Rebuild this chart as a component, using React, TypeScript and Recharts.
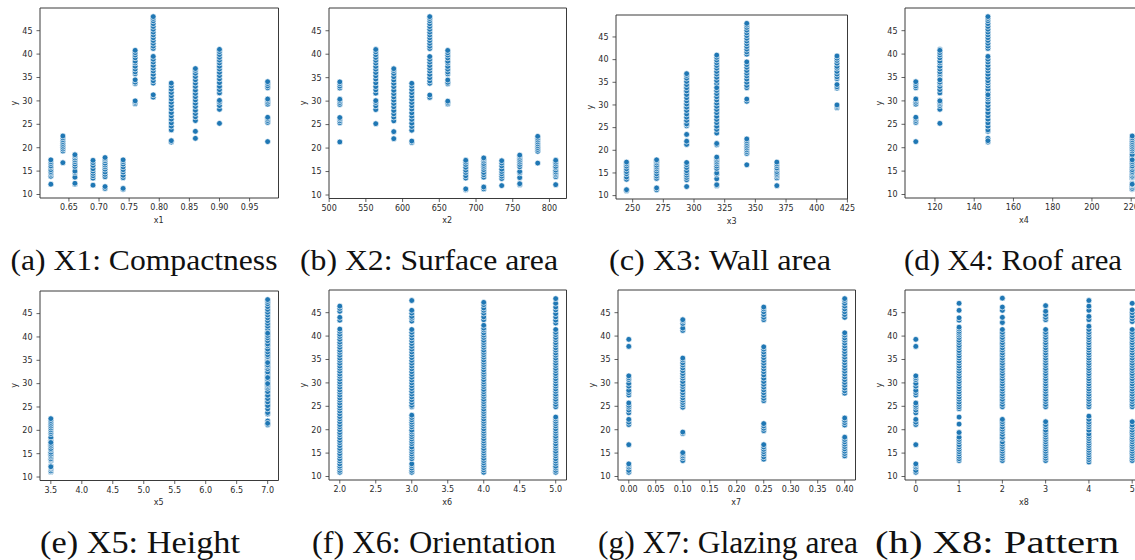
import React from 'react';
import { ScatterChart, Scatter, XAxis, YAxis, ReferenceArea } from 'recharts';

// ---------- DATA ----------
// building shapes (one entry per compactness level)
const compactness = [0.98, 0.9, 0.86, 0.82, 0.79, 0.76, 0.74, 0.71, 0.69, 0.66, 0.64, 0.62];
const surfaceArea = [514.5, 563.5, 588, 612.5, 637, 661.5, 686, 710.5, 735, 759.5, 784, 808.5];
const wallArea = [294, 318.5, 294, 318.5, 343, 416.5, 245, 269.5, 294, 318.5, 343, 367.5];
const roofArea = [110.25, 122.5, 147, 147, 147, 122.5, 220.5, 220.5, 220.5, 220.5, 220.5, 220.5];
const overallHeight = [7, 7, 7, 7, 7, 7, 3.5, 3.5, 3.5, 3.5, 3.5, 3.5];

// y values read per shape
const y098 = [21.3, 25.4, 25.8, 26.2, 26.5, 29.3, 29.7, 30.1, 30.4, 32.8, 33.2, 33.7, 34.1];
const y090 = [25.2, 28.2, 29.0, 29.7, 30.1, 31.7, 32.4, 33.1, 33.9, 34.7, 35.4, 36.1, 36.8, 37.4, 38.1, 38.7, 39.3, 39.9, 40.5, 41.0];
const y086 = [22.0, 23.5, 25.8, 26.6, 27.3, 28.0, 28.8, 29.5, 30.2, 30.9, 31.6, 32.3, 33.1, 33.8, 34.5, 35.2, 35.9, 36.5, 36.9];
const y082 = [21.2, 21.5, 23.8, 24.6, 25.3, 26.1, 26.8, 27.5, 28.3, 29.0, 29.7, 30.4, 31.1, 31.8, 32.5, 33.2, 33.8];
const y079 = [30.8, 31.3, 33.8, 34.3, 35.0, 35.7, 36.4, 37.0, 37.6, 38.3, 38.9, 39.5, 41.2, 41.7, 42.3, 42.9, 43.5, 44.1, 44.7, 45.3, 45.9, 46.5, 47.1, 47.6, 48.0];
const y076 = [29.4, 29.7, 30.0, 33.7, 34.0, 34.5, 35.8, 36.2, 36.8, 37.4, 38.1, 38.5, 39.2, 39.8, 40.3, 40.8];
const y074 = [11.1, 11.3, 13.6, 14.1, 14.8, 15.3, 15.9, 16.5, 17.0, 17.4];
const y071 = [11.3, 11.7, 13.8, 14.3, 14.8, 15.4, 15.9, 16.3, 16.7, 17.2, 17.6, 17.9];
const y069 = [12.0, 13.5, 14.0, 14.5, 15.0, 15.5, 16.2, 16.8, 17.3];
const y066 = [12.2, 12.4, 13.7, 14.7, 15.0, 16.0, 16.5, 17.0, 17.4, 17.8, 18.2, 18.5];
const y064 = [16.8, 19.3, 19.7, 20.1, 20.5, 20.9, 21.3, 21.7, 22.1, 22.5];
const y062 = [12.2, 13.9, 14.3, 14.6, 14.9, 15.3, 15.8, 16.1, 16.6, 17.0, 17.4];
const yByShape = [y098, y090, y086, y082, y079, y076, y074, y071, y069, y066, y064, y062];

// orientation
const orientation = [2, 3, 4, 5];
const yOr2 = [10.9, 11.3, 11.8, 12.2, 12.7, 13.3, 13.8, 14.4, 14.9, 15.5, 16.0, 16.6, 17.2, 17.7, 18.3, 18.9, 19.4, 20.0, 20.6, 21.1, 21.7, 22.3, 22.8, 23.4, 24.0, 24.6, 25.1, 25.7, 26.3, 26.8, 27.4, 28.0, 28.5, 29.1, 29.7, 30.2, 30.8, 31.4, 31.9, 32.5, 33.1, 33.6, 34.2, 34.8, 35.3, 35.9, 36.5, 37.0, 37.6, 38.2, 38.7, 39.3, 39.9, 40.4, 41.0, 41.5, 43.4, 44.0, 45.3, 45.9, 46.4];
const yOr3 = [10.9, 11.3, 11.8, 12.3, 12.7, 13.8, 14.3, 14.8, 15.3, 15.8, 16.3, 17.0, 17.5, 18.0, 18.5, 19.0, 19.5, 19.9, 20.6, 21.1, 21.6, 22.1, 22.6, 23.1, 24.9, 25.2, 25.8, 26.4, 27.0, 27.6, 28.2, 28.8, 29.4, 30.0, 30.6, 31.2, 31.8, 32.4, 33.0, 33.6, 34.2, 34.8, 35.4, 36.0, 36.6, 37.2, 37.8, 38.4, 39.0, 39.6, 40.2, 40.8, 41.4, 43.2, 43.8, 44.2, 44.9, 45.5, 47.6];
const yOr4 = [10.9, 11.4, 11.9, 12.4, 12.9, 13.4, 13.9, 14.5, 15.0, 15.5, 16.0, 16.6, 17.1, 17.6, 18.1, 18.7, 19.2, 19.7, 20.2, 20.8, 21.3, 21.8, 22.3, 22.9, 23.4, 23.9, 24.4, 25.0, 25.5, 26.0, 26.5, 27.1, 27.6, 28.1, 28.6, 29.2, 29.7, 30.2, 30.7, 31.3, 31.8, 32.3, 32.8, 33.4, 33.9, 34.4, 34.9, 35.5, 36.0, 36.5, 37.0, 37.6, 38.1, 38.6, 39.1, 39.7, 40.2, 40.7, 41.3, 41.7, 42.3, 43.5, 44.1, 44.9, 45.5, 46.0, 46.7, 47.2];
const yOr5 = [10.9, 11.3, 11.8, 12.2, 12.8, 13.3, 13.8, 14.4, 14.9, 15.4, 16.0, 16.5, 17.0, 17.6, 18.1, 18.6, 19.2, 19.7, 20.2, 20.8, 21.3, 21.8, 22.3, 22.7, 24.9, 25.4, 26.0, 26.5, 27.1, 27.6, 28.2, 28.7, 29.3, 29.8, 30.4, 30.9, 31.5, 32.0, 32.6, 33.1, 33.7, 34.2, 34.8, 35.3, 35.9, 36.4, 37.0, 37.5, 38.1, 38.6, 39.2, 39.7, 40.3, 40.8, 41.4, 42.8, 43.4, 44.1, 44.8, 45.6, 46.2, 47.0, 48.0];
const yByOrientation = [yOr2, yOr3, yOr4, yOr5];

// glazing area
const glazingArea = [0, 0.1, 0.25, 0.4];
const yGl000 = [10.9, 11.3, 12.0, 12.4, 12.7, 16.8, 21.1, 21.6, 22.2, 23.6, 24.2, 24.8, 25.2, 25.7, 27.4, 27.9, 28.4, 29.3, 29.9, 30.7, 31.1, 31.5, 37.8, 39.3];
const yGl010 = [13.4, 14.0, 14.4, 14.8, 15.1, 19.2, 19.5, 24.8, 25.3, 25.8, 26.3, 26.8, 27.4, 27.9, 28.5, 29.2, 29.7, 30.3, 31.0, 31.5, 32.0, 32.6, 33.2, 33.8, 34.3, 34.9, 35.3, 41.2, 41.7, 42.7, 43.2, 43.5];
const yGl025 = [13.7, 14.2, 14.8, 15.3, 15.8, 16.3, 16.8, 19.8, 20.3, 20.8, 21.3, 26.2, 26.7, 27.3, 27.9, 28.5, 29.1, 29.7, 30.3, 31.0, 31.7, 32.4, 33.0, 33.6, 34.2, 34.8, 35.4, 36.0, 36.6, 37.2, 37.7, 43.5, 44.0, 44.6, 45.2, 45.8, 46.2];
const yGl040 = [14.4, 14.9, 15.4, 15.9, 16.4, 16.9, 17.4, 17.9, 18.4, 21.0, 21.5, 22.0, 22.5, 27.8, 28.3, 28.9, 29.5, 30.1, 30.7, 31.3, 31.9, 32.5, 33.1, 33.7, 34.3, 34.9, 35.5, 36.1, 36.7, 37.3, 37.9, 38.5, 39.1, 39.6, 40.2, 40.7, 44.0, 44.6, 45.2, 45.8, 46.4, 47.0, 47.6, 48.0];
const yByGlazing = [yGl000, yGl010, yGl025, yGl040];

// glazing area distribution (pattern)
const pattern = [0, 1, 2, 3, 4, 5];
const yPt0 = [10.9, 11.3, 12.0, 12.4, 12.7, 16.8, 21.1, 21.6, 22.2, 23.6, 24.2, 24.8, 25.2, 25.7, 27.4, 27.9, 28.4, 29.3, 29.9, 30.7, 31.1, 31.5, 37.8, 39.3];
const yPt1 = [13.4, 13.8, 14.3, 14.8, 15.3, 15.8, 16.3, 16.8, 17.4, 17.9, 18.4, 19.4, 21.2, 22.7, 24.5, 24.9, 25.4, 25.9, 26.5, 27.0, 27.6, 28.1, 28.7, 29.2, 29.8, 30.3, 30.9, 31.4, 32.0, 32.5, 33.1, 33.6, 34.2, 34.7, 35.3, 35.8, 36.4, 36.9, 37.5, 38.0, 38.6, 39.1, 39.7, 40.2, 40.6, 41.0, 41.5, 41.9, 43.4, 43.9, 45.5, 47.0];
const yPt2 = [13.4, 13.9, 14.4, 14.9, 15.4, 15.9, 16.4, 16.9, 17.4, 18.1, 18.4, 19.0, 19.6, 20.1, 20.6, 21.2, 21.7, 22.2, 24.9, 25.4, 26.0, 26.5, 27.1, 27.6, 28.2, 28.7, 29.3, 29.8, 30.4, 30.9, 31.5, 32.0, 32.6, 33.1, 33.7, 34.2, 34.8, 35.3, 35.9, 36.4, 37.0, 37.5, 38.1, 38.6, 39.2, 39.7, 40.3, 40.8, 41.4, 42.9, 44.0, 45.5, 46.2, 48.1];
const yPt3 = [13.4, 13.9, 14.4, 14.9, 15.4, 15.9, 16.4, 16.9, 17.4, 17.9, 18.4, 18.9, 19.4, 19.9, 20.6, 21.1, 21.7, 24.9, 25.4, 26.0, 26.5, 27.1, 27.6, 28.2, 28.7, 29.3, 29.8, 30.4, 30.9, 31.5, 32.0, 32.6, 33.1, 33.7, 34.2, 34.8, 35.3, 35.9, 36.4, 37.0, 37.5, 38.1, 38.6, 39.2, 39.7, 40.3, 40.8, 41.4, 43.5, 44.0, 44.6, 45.3, 46.5];
const yPt4 = [13.1, 13.6, 14.1, 14.6, 15.1, 15.6, 16.1, 16.6, 17.1, 17.6, 18.1, 18.6, 19.1, 19.9, 20.6, 21.1, 21.6, 22.2, 22.9, 24.9, 25.4, 26.0, 26.5, 27.1, 27.6, 28.2, 28.7, 29.3, 29.8, 30.4, 30.9, 31.5, 32.0, 32.6, 33.1, 33.7, 34.2, 34.8, 35.3, 35.9, 36.4, 37.0, 37.5, 38.1, 38.6, 39.2, 39.7, 40.3, 40.8, 41.4, 42.1, 43.5, 44.2, 45.5, 46.4, 47.6];
const yPt5 = [13.4, 13.9, 14.4, 14.9, 15.4, 15.9, 16.4, 16.9, 17.4, 17.9, 18.4, 18.9, 19.4, 19.9, 20.5, 21.0, 21.7, 24.9, 25.4, 26.0, 26.5, 27.1, 27.6, 28.2, 28.7, 29.3, 29.8, 30.4, 30.9, 31.5, 32.0, 32.6, 33.1, 33.7, 34.2, 34.8, 35.3, 35.9, 36.4, 37.0, 37.5, 38.1, 38.6, 39.2, 39.7, 40.3, 40.8, 41.4, 43.1, 43.7, 44.3, 45.0, 45.6, 47.0];
const yByPattern = [yPt0, yPt1, yPt2, yPt3, yPt4, yPt5];

// ticks
const yTicks = [10, 15, 20, 25, 30, 35, 40, 45];
const ticksX1 = [0.65, 0.7, 0.75, 0.8, 0.85, 0.9, 0.95];
const ticksX2 = [500, 550, 600, 650, 700, 750, 800];
const ticksX3 = [250, 275, 300, 325, 350, 375, 400, 425];
const ticksX4 = [120, 140, 160, 180, 200, 220];
const ticksX5 = [3.5, 4, 4.5, 5, 5.5, 6, 6.5, 7];
const ticksX6 = [2, 2.5, 3, 3.5, 4, 4.5, 5];
const ticksX7 = [0, 0.05, 0.1, 0.15, 0.2, 0.25, 0.3, 0.35, 0.4];
const ticksX8 = [0, 1, 2, 3, 4, 5];

const captions = [
  '(a) X1: Compactness', '(b) X2: Surface area', '(c) X3: Wall area', '(d) X4: Roof area',
  '(e) X5: Height', '(f) X6: Orientation', '(g) X7: Glazing area', '(h) X8: Pattern',
];
const xNames = ['x1', 'x2', 'x3', 'x4', 'x5', 'x6', 'x7', 'x8'];

// ---------- helpers ----------
type Pt = { x: number; y: number };
function columns(xs: number[], ys: number[][]): Pt[] {
  const out: Pt[] = [];
  xs.forEach((x, i) => ys[i].forEach((y) => out.push({ x, y })));
  return out;
}
function padded(xs: number[]): [number, number] {
  const lo = Math.min(...xs);
  const hi = Math.max(...xs);
  const m = (hi - lo) * 0.05;
  return [lo - m, hi + m];
}
const allY = yByShape.flat();
const Y_DOMAIN = padded(allY);

const panelData: Pt[][] = [
  columns(compactness, yByShape),
  columns(surfaceArea, yByShape),
  columns(wallArea, yByShape),
  columns(roofArea, yByShape),
  columns(overallHeight, yByShape),
  columns(orientation, yByOrientation),
  columns(glazingArea, yByGlazing),
  columns(pattern, yByPattern),
];
const panelXs = [compactness, surfaceArea, wallArea, roofArea, overallHeight, orientation, glazingArea, pattern];
const panelTicks = [ticksX1, ticksX2, ticksX3, ticksX4, ticksX5, ticksX6, ticksX7, ticksX8];
const panelFmt = [
  (v: number) => v.toFixed(2), (v: number) => String(v), (v: number) => String(v), (v: number) => String(v),
  (v: number) => v.toFixed(1), (v: number) => v.toFixed(1), (v: number) => v.toFixed(2), (v: number) => String(v),
];

// layout: plot box [left, top, width, height]
const boxes = [
  [39.5, 8, 238.5, 190], [328.5, 7.5, 237.5, 190.5], [616, 15, 231.5, 184], [905, 8, 238, 190],
  [39.5, 290.5, 238.5, 189.5], [328.5, 290, 237.5, 190], [617.5, 290, 237.5, 190], [905, 290, 238, 190],
];
const captionPos = [
  [144, 270, 267], [429, 270, 258], [720, 270, 222], [1013, 270, 218],
  [140, 553, 200], [434, 553, 244], [728, 553, 260], [997, 553, 244],
];

const BLUE = '#1f77b4';
const AX = '#3a3a3a';
const Dot = (p: any) => (
  <circle cx={p.cx} cy={p.cy} r={2.9} fill={BLUE} stroke="#ffffff" strokeWidth={0.7} />
);

const tickStyle = { fontSize: 8, fill: '#2a2a2a', fontFamily: 'DejaVu Sans' };

function Panel({ i }: { i: number }) {
  const [l, t, w, h] = boxes[i];
  const xd = padded(panelXs[i]);
  const fmt = panelFmt[i];
  return (
    <div style={{ position: 'absolute', left: l - 40, top: t - 5 }}>
      <ScatterChart width={w + 60} height={h + 35} margin={{ top: 5, right: 20, bottom: 0, left: 0 }}>
        <XAxis
          type="number"
          dataKey="x"
          domain={xd}
          allowDataOverflow
          ticks={panelTicks[i]}
          interval={0}
          tickFormatter={fmt}
          tick={tickStyle}
          tickSize={3.5}
          tickMargin={3}
          axisLine={false}
          tickLine={{ stroke: AX, strokeWidth: 0.8 }}
          height={30}
        />
        <YAxis
          type="number"
          dataKey="y"
          domain={Y_DOMAIN}
          allowDataOverflow
          ticks={yTicks}
          interval={0}
          tick={tickStyle}
          tickSize={3.5}
          tickMargin={4}
          axisLine={false}
          tickLine={{ stroke: AX, strokeWidth: 0.8 }}
          width={40}
        />
        <Scatter data={panelData[i]} shape={Dot} isAnimationActive={false} />
        <ReferenceArea
          x1={xd[0]}
          x2={xd[1]}
          y1={Y_DOMAIN[0]}
          y2={Y_DOMAIN[1]}
          fill="none"
          fillOpacity={0}
          stroke={AX}
          strokeWidth={1}
          ifOverflow="visible"
        />
      </ScatterChart>
    </div>
  );
}

export default function App() {
  return (
    <div
      style={{
        position: 'absolute', left: 0, top: 0, width: 1135, height: 560,
        background: '#ffffff', overflow: 'hidden',
      }}
    >
      {boxes.map((_, i) => (
        <Panel key={i} i={i} />
      ))}
      <svg width={1135} height={560} style={{ position: 'absolute', left: 0, top: 0, pointerEvents: 'none' }}>
        {boxes.map((b, i) => {
          const [l, t, w, h] = b;
          return (
            <g key={i}>
              <text
                x={l + w / 2}
                y={t + h + 25}
                textAnchor="middle"
                fontSize={8}
                fontFamily="DejaVu Sans"
                fill="#2a2a2a"
              >
                {xNames[i]}
              </text>
              <text
                x={l - 23}
                y={t + h / 2}
                textAnchor="middle"
                fontSize={8}
                fontFamily="DejaVu Sans"
                fill="#2a2a2a"
                transform={`rotate(-90 ${l - 23} ${t + h / 2})`}
              >
                y
              </text>
            </g>
          );
        })}
        {captions.map((c, i) => {
          const [cx, by, len] = captionPos[i];
          return (
            <text
              key={c}
              x={cx}
              y={by}
              textAnchor="middle"
              fontSize={i < 4 ? 29 : 31}
              fontFamily="Liberation Serif"
              fill="#111"
              textLength={len}
              lengthAdjust="spacingAndGlyphs"
            >
              {c}
            </text>
          );
        })}
      </svg>
    </div>
  );
}
